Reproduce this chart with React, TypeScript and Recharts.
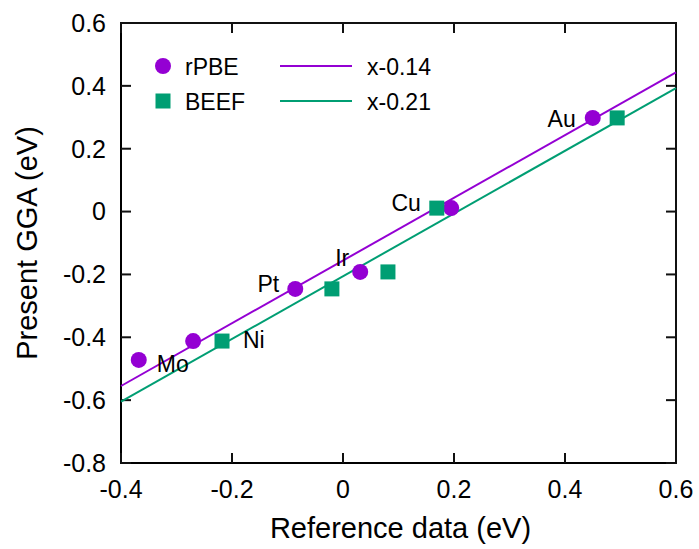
import React from 'react';
import { ComposedChart, Scatter, XAxis, YAxis, Legend, Label, ReferenceArea } from 'recharts';

// ---- data ----
const rpbeNames = ['Mo', 'Ni', 'Pt', 'Ir', 'Cu', 'Au'];
const rpbeX = [-0.368, -0.27, -0.086, 0.031, 0.195, 0.45];
const rpbeY = [-0.472, -0.412, -0.246, -0.192, 0.011, 0.298];

const beefNames = ['Ni', 'Pt', 'Ir', 'Cu', 'Au'];
const beefX = [-0.218, -0.02, 0.081, 0.169, 0.494];
const beefY = [-0.412, -0.246, -0.192, 0.011, 0.298];

const rpbeLabelled = ['Mo', 'Pt', 'Ir', 'Au'];
const beefLabelled = ['Ni', 'Cu'];

const fitX = [-0.4, 0.6];
const fitRpbeY = [-0.555, 0.443];
const fitBeefY = [-0.605, 0.393];

const xDomain = [-0.4, 0.6];
const yDomain = [-0.8, 0.6];
const xTicks = [-0.4, -0.2, 0, 0.2, 0.4, 0.6];
const yTicks = [-0.8, -0.6, -0.4, -0.2, 0, 0.2, 0.4, 0.6];

const legendNames = ['rPBE', 'BEEF'];
const fitNames = ['x-0.14', 'x-0.21'];

// ---- styling ----
const PURPLE = '#9400D3';
const GREEN = '#009E73';
const INK = '#111111';
const FONT = '"Liberation Sans", Arial, Helvetica, sans-serif';
const TICK_FS = 25;
const X_MARGIN = 17;
const Y_MARGIN = 15;
const TICK_LEN = 10;

const rpbeData = rpbeX.map((x, i) => ({ x, y: rpbeY[i], name: rpbeNames[i] }));
const beefData = beefX.map((x, i) => ({ x, y: beefY[i], name: beefNames[i] }));
const fitRpbe = fitX.map((x, i) => ({ x, y: fitRpbeY[i] }));
const fitBeef = fitX.map((x, i) => ({ x, y: fitBeefY[i] }));
const labelData = [
  ...rpbeData.filter((d) => rpbeLabelled.includes(d.name)),
  ...beefData.filter((d) => beefLabelled.includes(d.name)),
];
// frame and tick anchors in data space
const frameData = [
  { x: xDomain[0], y: yDomain[1] },
  { x: xDomain[1], y: yDomain[1] },
  { x: xDomain[1], y: yDomain[0] },
];
const bottomTickData = xTicks.map((t) => ({ x: t, y: yDomain[0] }));
const topTickData = xTicks.map((t) => ({ x: t, y: yDomain[1] }));
const leftTickData = yTicks.map((t) => ({ x: xDomain[0], y: t }));
const rightTickData = yTicks.map((t) => ({ x: xDomain[1], y: t }));

const labelStyle: Record<string, { dx: number; dy: number; anchor: string }> = {
  Mo: { dx: 18, dy: 12, anchor: 'start' },
  Ni: { dx: 21, dy: 7, anchor: 'start' },
  Pt: { dx: -16, dy: 3, anchor: 'end' },
  Ir: { dx: -11, dy: -6, anchor: 'end' },
  Cu: { dx: -16, dy: 3, anchor: 'end' },
  Au: { dx: -17, dy: 9, anchor: 'end' },
};

const fmt = (v: number) => (Math.abs(v) < 1e-9 ? '0' : v.toFixed(1));

const Circle = (p: any) => <circle cx={p.cx} cy={p.cy} r={8} fill={PURPLE} />;
const Square = (p: any) => (
  <rect x={p.cx - 7.5} y={p.cy - 7.5} width={15} height={15} fill={GREEN} />
);
const Nothing = () => <g />;
const TickUp = (p: any) => <rect x={p.cx - 1} y={p.cy - TICK_LEN} width={2} height={TICK_LEN} fill={INK} />;
const TickDown = (p: any) => <rect x={p.cx - 1} y={p.cy} width={2} height={TICK_LEN} fill={INK} />;
const TickRight = (p: any) => <rect x={p.cx} y={p.cy - 1} width={TICK_LEN} height={2} fill={INK} />;
const TickLeft = (p: any) => <rect x={p.cx - TICK_LEN} y={p.cy - 1} width={TICK_LEN} height={2} fill={INK} />;

const TextMark = (p: any) => {
  const s = labelStyle[p.payload?.name] || { dx: 0, dy: 0, anchor: 'middle' };
  return (
    <text
      x={p.cx + s.dx}
      y={p.cy + s.dy}
      textAnchor={s.anchor}
      fontSize={23}
      fontFamily={FONT}
      fill="#000"
    >
      {p.payload?.name}
    </text>
  );
};

const XTick = (p: any) => (
  <text
    x={p.x}
    y={p.y}
    dy="0.71em"
    textAnchor="middle"
    fontSize={TICK_FS}
    fontFamily={FONT}
    fill="#000"
  >
    {fmt(p.payload.value)}
  </text>
);

const YTick = (p: any) => (
  <text
    x={p.x}
    y={p.y}
    dy="0.355em"
    textAnchor="end"
    fontSize={TICK_FS}
    fontFamily={FONT}
    fill="#000"
  >
    {fmt(p.payload.value)}
  </text>
);

const YTitle = (props: any) => {
  const vb = props.viewBox || { x: 0, y: 23, width: 121, height: 440 };
  const cx = vb.x + 27;
  const cy = vb.y + vb.height / 2;
  return (
    <text
      x={cx}
      y={cy}
      transform={`rotate(-90 ${cx} ${cy})`}
      textAnchor="middle"
      dominantBaseline="central"
      fontSize={29}
      fontFamily={FONT}
      fill="#000"
    >
      Present GGA (eV)
    </text>
  );
};

const XTitle = (props: any) => {
  const vb = props.viewBox || { x: 121, y: 463, width: 555, height: 86 };
  return (
    <text
      x={vb.x + vb.width / 2 + 2}
      y={vb.y + 75}
      textAnchor="middle"
      fontSize={29}
      fontFamily={FONT}
      fill="#000"
    >
      Reference data (eV)
    </text>
  );
};

const LegendBox = () => (
  <svg width={300} height={80} style={{ overflow: 'visible' }}>
    <circle cx={23} cy={21} r={8} fill={PURPLE} />
    <text x={45} y={30} fontSize={23} fontFamily={FONT} fill="#000">
      {legendNames[0]}
    </text>
    <line x1={140} x2={212} y1={21} y2={21} stroke={PURPLE} strokeWidth={2} />
    <text x={227} y={30} fontSize={23} fontFamily={FONT} fill="#000">
      {fitNames[0]}
    </text>
    <rect x={15.5} y={48.5} width={15} height={15} fill={GREEN} />
    <text x={45} y={65} fontSize={23} fontFamily={FONT} fill="#000">
      {legendNames[1]}
    </text>
    <line x1={140} x2={212} y1={56} y2={56} stroke={GREEN} strokeWidth={2} />
    <text x={227} y={65} fontSize={23} fontFamily={FONT} fill="#000">
      {fitNames[1]}
    </text>
  </svg>
);

const axisLine = { stroke: '#000', strokeWidth: 2 };

export default function App() {
  return (
    <div style={{ position: 'absolute', left: 0, top: 0, background: '#fff' }}>
      <ComposedChart
        width={699}
        height={549}
        margin={{ top: 23, right: 23, bottom: 0, left: 0 }}
      >
        <XAxis
          type="number"
          dataKey="x"
          domain={xDomain}
          ticks={xTicks}
          height={86}
          tickSize={0}
          tickMargin={X_MARGIN}
          axisLine={axisLine}
          tickLine={false}
          tick={XTick}
          interval={0}
        >
          <Label content={XTitle} />
        </XAxis>
        <YAxis
          type="number"
          dataKey="y"
          domain={yDomain}
          ticks={yTicks}
          width={121}
          tickSize={0}
          tickMargin={Y_MARGIN}
          axisLine={axisLine}
          tickLine={false}
          tick={YTick}
          interval={0}
        >
          <Label content={YTitle} />
        </YAxis>
        <ReferenceArea
          x1={xDomain[0]}
          x2={xDomain[1]}
          y1={yDomain[0]}
          y2={yDomain[1]}
          stroke={INK}
          strokeWidth={2}
          fill="none"
          fillOpacity={0}
          ifOverflow="visible"
        />
        <Legend
          layout="vertical"
          align="center"
          verticalAlign="middle"
          content={LegendBox}
          wrapperStyle={{ left: 140, top: 45, width: 300, height: 80 }}
        />
        <Scatter
          name="frame"
          data={frameData}
          line={{ stroke: INK, strokeWidth: 2 }}
          shape={Nothing}
          isAnimationActive={false}
          legendType="none"
        />
        <Scatter name="tb" data={bottomTickData} shape={TickUp} isAnimationActive={false} legendType="none" />
        <Scatter name="tt" data={topTickData} shape={TickDown} isAnimationActive={false} legendType="none" />
        <Scatter name="tl" data={leftTickData} shape={TickRight} isAnimationActive={false} legendType="none" />
        <Scatter name="tr" data={rightTickData} shape={TickLeft} isAnimationActive={false} legendType="none" />
        <Scatter
          name="x-0.14"
          data={fitRpbe}
          line={{ stroke: PURPLE, strokeWidth: 2 }}
          shape={Nothing}
          isAnimationActive={false}
          legendType="none"
        />
        <Scatter
          name="x-0.21"
          data={fitBeef}
          line={{ stroke: GREEN, strokeWidth: 2 }}
          shape={Nothing}
          isAnimationActive={false}
          legendType="none"
        />
        <Scatter name="rPBE" data={rpbeData} shape={Circle} isAnimationActive={false} />
        <Scatter name="BEEF" data={beefData} shape={Square} isAnimationActive={false} />
        <Scatter
          name="labels"
          data={labelData}
          shape={TextMark}
          isAnimationActive={false}
          legendType="none"
        />
      </ComposedChart>
    </div>
  );
}
